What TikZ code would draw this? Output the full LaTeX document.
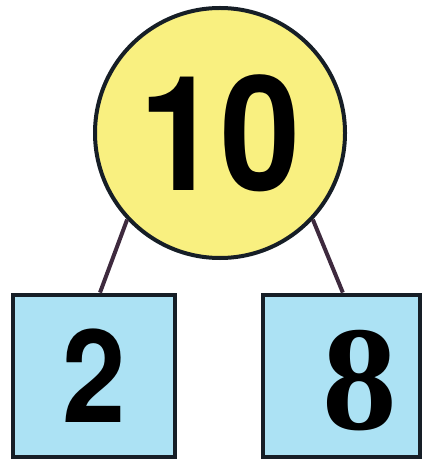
\documentclass[tikz,border=0pt]{standalone}
\usepackage{fontspec}
\setmainfont{Liberation Serif}
\setsansfont{TeX Gyre Heros}
\definecolor{bondyellow}{RGB}{249,240,128}
\definecolor{bondblue}{RGB}{172,226,244}
\definecolor{bondedge}{RGB}{22,30,38}
\definecolor{bondline}{RGB}{62,42,62}
\begin{document}
\begin{tikzpicture}[x=0.75pt, y=-0.75pt,
  whole/.style={circle, draw=bondedge, fill=bondyellow, line width=3pt,
    minimum size=187.5pt, inner sep=0pt},
  part/.style={rectangle, draw=bondedge, fill=bondblue, line width=3.6pt,
    minimum height=121.5pt, inner sep=0pt},
  bond/.style={draw=bondline, line width=3pt}]
\useasboundingbox (0,0) rectangle (426,463);
\node[whole] (ten) at (220,133) {\fontsize{120}{120}\selectfont\sffamily\bfseries\scalebox{0.9}[1]{10}};
\node[part, minimum width=121.5pt] (two) at (94,376) {\fontsize{97}{97}\selectfont\sffamily\bfseries\scalebox{0.88}[1]{2}};
\node[part, minimum width=117.7pt] (eight) at (341.5,376) {};
\node[inner sep=0pt] (eightnum) at (360,381) {\fontsize{112}{112}\selectfont\rmfamily\bfseries 8};
\draw[bond] (ten.223) -- ([xshift=4.5pt]two.north);
\draw[bond] (ten.317) -- ([xshift=1pt]eight.north);
\end{tikzpicture}
\end{document}
